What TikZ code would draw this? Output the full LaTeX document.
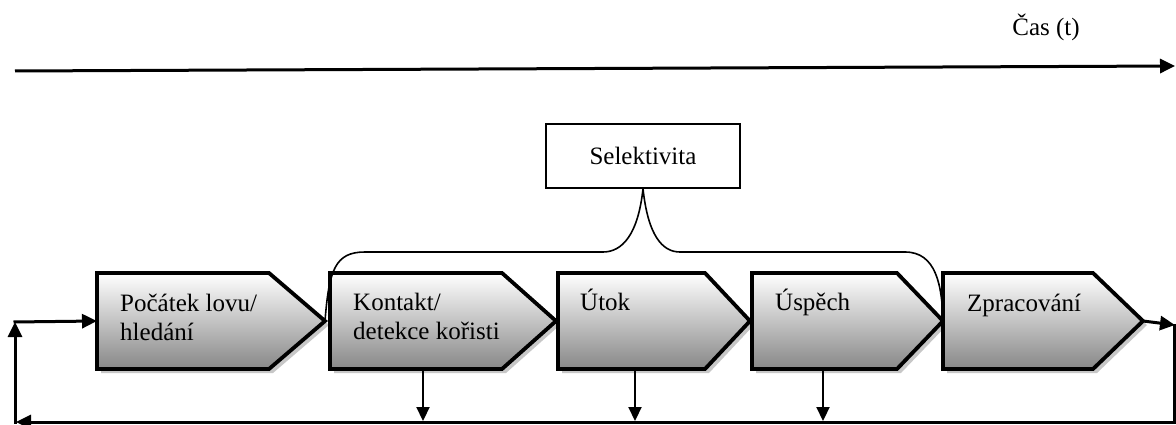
\documentclass[tikz,border=0pt]{standalone}
\usepackage{fontspec}
\setmainfont{Liberation Serif}
\usetikzlibrary{arrows.meta}
\tikzset{
  stage/.style={line width=3.8pt, line join=miter, top color=white, bottom color=black!47, draw=black},
  stshadow/.style={fill=black!22},
  conn/.style={line width=3pt, -{Triangle[length=15pt,width=14pt]}},
  thin conn/.style={line width=2.2pt, -{Triangle[length=14pt,width=13pt]}},
  brace/.style={line width=1.6pt},
  lbl/.style={anchor=base west, align=left, inner sep=0pt, font=\fontsize{25}{29}\selectfont},
  selbox/.style={draw, line width=1.6pt, minimum width=194pt, minimum height=64pt, inner sep=0pt, font=\fontsize{25}{29}\selectfont}
}
\newcommand\stagebox[4]{%
  \fill[stshadow] ({#2+4},277) -- ({#3+4},277) -- ({#4+4},325) -- ({#3+4},373) -- ({#2+4},373) -- cycle;
  \draw[stage] (#2,273) -- (#3,273) -- (#4,321) -- (#3,369) -- (#2,369) -- cycle;
  \coordinate (#1w) at (#2,321);
  \coordinate (#1e) at (#4,321);
}
\begin{document}
\begin{tikzpicture}[x=1pt,y=-1pt]
\useasboundingbox[fill=white] (0,0) rectangle (1176,425);

% time axis
\node[inner sep=0pt, font=\fontsize{25}{29}\selectfont] (cas) at (1046,27) {Čas (t)};
\coordinate (t0) at (15,71);
\coordinate (t1) at (1175,66);
\draw[conn] (t0) -- (t1);

% stages
\stagebox{b1}{97}{269}{325}
\stagebox{b2}{330}{502}{556}
\stagebox{b3}{558}{705}{750}
\stagebox{b4}{752}{897}{943}
\stagebox{b5}{943}{1093}{1143}

\node[lbl] (l1) at (120,340) {Počátek lovu/\\hledání};
\node[lbl] (l2) at (353,339) {Kontakt/\\detekce kořisti};
\node[lbl] (l3) at (580,310) {Útok};
\node[lbl] (l4) at (775,310) {Úspěch};
\node[lbl] (l5) at (967,311) {Zpracování};

% selectivity
\node[selbox] (sel) at (643,156) {Selektivita};
\coordinate (bl) at (603,252);
\coordinate (bll) at (365,252);
\coordinate (br) at (680,252);
\coordinate (brr) at (905,252);
\draw[brace] (b1e) .. controls (329,270) and (335,252) .. (bll) -- (bl)
  .. controls (622,252) and (638,235) .. (sel.south);
\draw[brace] (sel.south) .. controls (648,235) and (662,252) .. (br) -- (brr)
  .. controls (936,252) and (942,285) .. (b4e);

% bottom arrows
\coordinate (d2) at (423,369);
\coordinate (d3) at (635,369);
\coordinate (d4) at (823,369);
\coordinate (e2) at (423,421);
\coordinate (e3) at (635,421);
\coordinate (e4) at (823,421);
\draw[thin conn] (d2) -- (e2);
\draw[thin conn] (d3) -- (e3);
\draw[thin conn] (d4) -- (e4);

% feedback loop
\coordinate (r1) at (1175,325);
\coordinate (r0) at (1174,324);
\coordinate (r2) at (1174,422);
\coordinate (lb) at (16,422);
\coordinate (lv0) at (15,423.5);
\coordinate (lv1) at (15,322);
\coordinate (lh0) at (13.5,322);
\draw[conn] (b5e) -- (r1);
\draw[conn] (r0) -- (r2) -- (lb);
\draw[conn] (lv0) -- (lv1);
\draw[conn] (lh0) -- (b1w);
\end{tikzpicture}
\end{document}
